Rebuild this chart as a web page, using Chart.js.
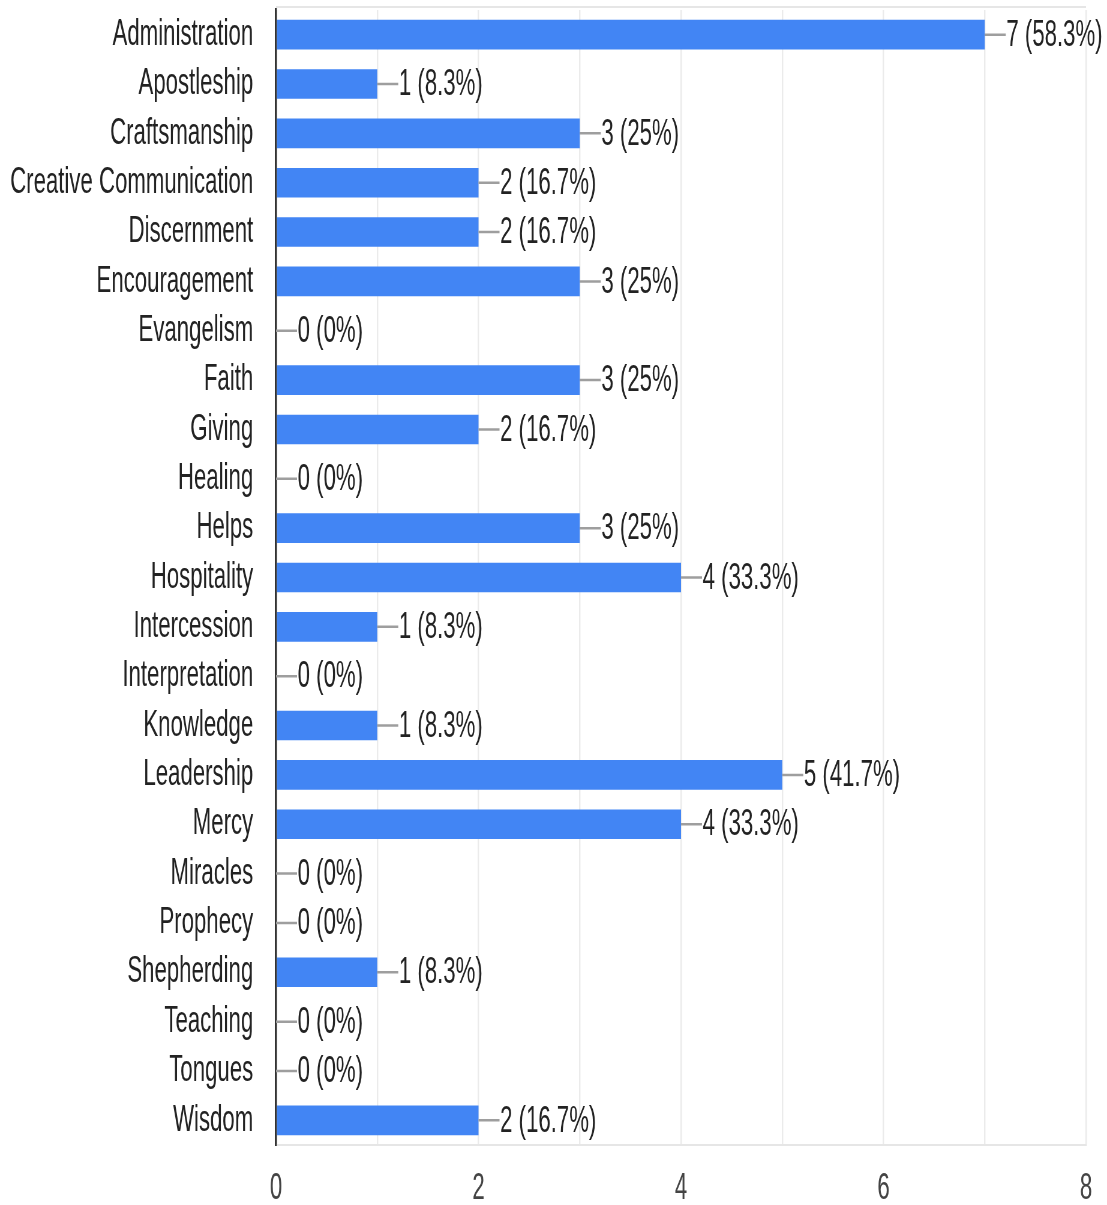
<!DOCTYPE html>
<html>
<head>
<meta charset="utf-8">
<script src="https://cdn.jsdelivr.net/npm/chart.js@4.4.1/dist/chart.umd.min.js"></script>
<style>
  html, body { margin: 0; padding: 0; background: #fff; overflow: hidden; }
  /* the reference text is horizontally squeezed, so draw wide and compress */
  #wrap { width: 1845px; height: 1205px; transform: scaleX(0.6); transform-origin: 0 0; }
</style>
</head>
<body>
<div id="wrap"><canvas id="chart" width="1845" height="1205"></canvas></div>
<script>
const categories = [
  'Administration', 'Apostleship', 'Craftsmanship', 'Creative Communication',
  'Discernment', 'Encouragement', 'Evangelism', 'Faith', 'Giving', 'Healing',
  'Helps', 'Hospitality', 'Intercession', 'Interpretation', 'Knowledge',
  'Leadership', 'Mercy', 'Miracles', 'Prophecy', 'Shepherding', 'Teaching',
  'Tongues', 'Wisdom',
];
const counts = [7, 1, 3, 2, 2, 3, 0, 3, 2, 0, 3, 4, 1, 0, 1, 5, 4, 0, 0, 1, 0, 0, 2];
const percents = ['58.3', '8.3', '25', '16.7', '16.7', '25', '0', '25', '16.7', '0',
  '25', '33.3', '8.3', '0', '8.3', '41.7', '33.3', '0', '0', '8.3', '0', '0', '16.7'];
const xTicks = [0, 2, 4, 6, 8];

const FONT = '"Liberation Sans", Arial, sans-serif';

const leaderLabels = {
  id: 'leaderLabels',
  beforeDatasetsDraw(chart) {
    const { ctx, chartArea } = chart;
    // light frame line along the top of the plot
    ctx.save();
    ctx.strokeStyle = '#e6e6e6';
    ctx.lineWidth = 2;
    ctx.beginPath();
    ctx.moveTo(chartArea.left, chartArea.top - 3);
    ctx.lineTo(chartArea.right, chartArea.top - 3);
    ctx.stroke();
    ctx.restore();
  },
  afterDatasetsDraw(chart) {
    const { ctx } = chart;
    const meta = chart.getDatasetMeta(0);
    ctx.save();
    ctx.font = `37px ${FONT}`;
    ctx.textBaseline = 'middle';
    ctx.textAlign = 'left';
    meta.data.forEach((bar, i) => {
      ctx.strokeStyle = '#9e9e9e';
      ctx.lineWidth = 2.5;
      ctx.beginPath();
      ctx.moveTo(bar.x, bar.y);
      ctx.lineTo(bar.x + 35, bar.y);
      ctx.stroke();
      ctx.fillStyle = '#222';
      ctx.fillText(`${counts[i]} (${percents[i]}%)`, bar.x + 36, bar.y + 1);
    });
    ctx.restore();
  },
};

new Chart(document.getElementById('chart'), {
  type: 'bar',
  data: {
    labels: categories,
    datasets: [{
      data: counts,
      backgroundColor: '#4285f4',
      borderWidth: 0,
      barPercentage: 0.6,
      categoryPercentage: 1,
    }],
  },
  options: {
    indexAxis: 'y',
    responsive: false,
    animation: false,
    devicePixelRatio: 1,
    layout: { padding: { top: 10, bottom: 0, left: 0, right: 35 } },
    plugins: { legend: { display: false }, tooltip: { enabled: false } },
    scales: {
      x: {
        min: 0,
        max: 8,
        afterFit(scale) { scale.height = 60; },
        afterBuildTicks(scale) {
          scale.ticks = [0, 1, 2, 3, 4, 5, 6, 7, 8].map((v) => ({ value: v }));
        },
        ticks: {
          padding: 22,
          color: '#444',
          font: { family: FONT, size: 37 },
          maxRotation: 0,
          autoSkip: false,
          callback(value) { return xTicks.includes(value) ? String(value) : ''; },
        },
        grid: {
          drawTicks: false,
          color: (c) => (c.tick && c.tick.value === 0 ? '#333' : '#ebebeb'),
          lineWidth: (c) => (c.tick && c.tick.value === 0 ? 3.3 : 2.4),
        },
        border: { color: '#e6e6e6', width: 2 },
      },
      y: {
        afterFit(scale) {
          scale.width = 460;
          scale.paddingTop = 0;
          scale.paddingBottom = 0;
        },
        ticks: {
          padding: 38,
          color: '#222',
          font: { family: FONT, size: 37 },
          autoSkip: false,
        },
        grid: { display: false, drawTicks: false },
        border: { color: '#333', width: 3.3 },
      },
    },
  },
  plugins: [leaderLabels],
});
</script>
</body>
</html>
